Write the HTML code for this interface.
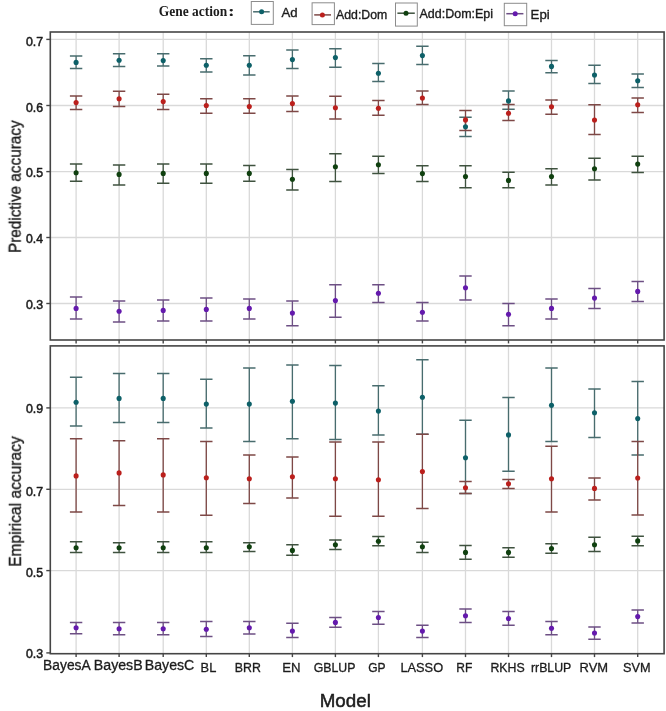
<!DOCTYPE html><html><head><meta charset="utf-8"><style>html,body{margin:0;padding:0;background:#fff}svg{display:block}text{will-change:transform}</style></head><body>
<svg width="666" height="711" viewBox="0 0 666 711">
<rect width="666" height="711" fill="#fff"/>
<line x1="50.3" x2="664.1" y1="39.4" y2="39.4" stroke="#d9d9d9" stroke-width="1.3"/>
<line x1="50.3" x2="664.1" y1="105.5" y2="105.5" stroke="#d9d9d9" stroke-width="1.3"/>
<line x1="50.3" x2="664.1" y1="171.6" y2="171.6" stroke="#d9d9d9" stroke-width="1.3"/>
<line x1="50.3" x2="664.1" y1="237.5" y2="237.5" stroke="#d9d9d9" stroke-width="1.3"/>
<line x1="50.3" x2="664.1" y1="303.5" y2="303.5" stroke="#d9d9d9" stroke-width="1.3"/>
<line x1="76.10" x2="76.10" y1="32.0" y2="340.0" stroke="#d9d9d9" stroke-width="1.3"/>
<line x1="119.10" x2="119.10" y1="32.0" y2="340.0" stroke="#d9d9d9" stroke-width="1.3"/>
<line x1="163.20" x2="163.20" y1="32.0" y2="340.0" stroke="#d9d9d9" stroke-width="1.3"/>
<line x1="206.30" x2="206.30" y1="32.0" y2="340.0" stroke="#d9d9d9" stroke-width="1.3"/>
<line x1="249.30" x2="249.30" y1="32.0" y2="340.0" stroke="#d9d9d9" stroke-width="1.3"/>
<line x1="292.40" x2="292.40" y1="32.0" y2="340.0" stroke="#d9d9d9" stroke-width="1.3"/>
<line x1="335.40" x2="335.40" y1="32.0" y2="340.0" stroke="#d9d9d9" stroke-width="1.3"/>
<line x1="378.40" x2="378.40" y1="32.0" y2="340.0" stroke="#d9d9d9" stroke-width="1.3"/>
<line x1="422.40" x2="422.40" y1="32.0" y2="340.0" stroke="#d9d9d9" stroke-width="1.3"/>
<line x1="465.50" x2="465.50" y1="32.0" y2="340.0" stroke="#d9d9d9" stroke-width="1.3"/>
<line x1="508.50" x2="508.50" y1="32.0" y2="340.0" stroke="#d9d9d9" stroke-width="1.3"/>
<line x1="551.50" x2="551.50" y1="32.0" y2="340.0" stroke="#d9d9d9" stroke-width="1.3"/>
<line x1="594.50" x2="594.50" y1="32.0" y2="340.0" stroke="#d9d9d9" stroke-width="1.3"/>
<line x1="637.70" x2="637.70" y1="32.0" y2="340.0" stroke="#d9d9d9" stroke-width="1.3"/>
<path d="M69.90 55.9H82.30M69.90 68.4H82.30" stroke="#486c6e" stroke-width="1.5" fill="none"/>
<path d="M76.10 55.9V68.4" stroke="#486c6e" stroke-width="1.3" fill="none"/>
<path d="M112.90 53.8H125.30M112.90 66.5H125.30" stroke="#486c6e" stroke-width="1.5" fill="none"/>
<path d="M119.10 53.8V66.5" stroke="#486c6e" stroke-width="1.3" fill="none"/>
<path d="M157.00 53.8H169.40M157.00 66.1H169.40" stroke="#486c6e" stroke-width="1.5" fill="none"/>
<path d="M163.20 53.8V66.1" stroke="#486c6e" stroke-width="1.3" fill="none"/>
<path d="M200.10 58.7H212.50M200.10 71.9H212.50" stroke="#486c6e" stroke-width="1.5" fill="none"/>
<path d="M206.30 58.7V71.9" stroke="#486c6e" stroke-width="1.3" fill="none"/>
<path d="M243.10 55.7H255.50M243.10 74.9H255.50" stroke="#486c6e" stroke-width="1.5" fill="none"/>
<path d="M249.30 55.7V74.9" stroke="#486c6e" stroke-width="1.3" fill="none"/>
<path d="M286.20 49.9H298.60M286.20 68.4H298.60" stroke="#486c6e" stroke-width="1.5" fill="none"/>
<path d="M292.40 49.9V68.4" stroke="#486c6e" stroke-width="1.3" fill="none"/>
<path d="M329.20 48.8H341.60M329.20 67.3H341.60" stroke="#486c6e" stroke-width="1.5" fill="none"/>
<path d="M335.40 48.8V67.3" stroke="#486c6e" stroke-width="1.3" fill="none"/>
<path d="M372.20 63.4H384.60M372.20 81.6H384.60" stroke="#486c6e" stroke-width="1.5" fill="none"/>
<path d="M378.40 63.4V81.6" stroke="#486c6e" stroke-width="1.3" fill="none"/>
<path d="M416.20 46.2H428.60M416.20 64.4H428.60" stroke="#486c6e" stroke-width="1.5" fill="none"/>
<path d="M422.40 46.2V64.4" stroke="#486c6e" stroke-width="1.3" fill="none"/>
<path d="M459.30 117.3H471.70M459.30 136.6H471.70" stroke="#486c6e" stroke-width="1.5" fill="none"/>
<path d="M465.50 117.3V136.6" stroke="#486c6e" stroke-width="1.3" fill="none"/>
<path d="M502.30 91.1H514.70M502.30 109.3H514.70" stroke="#486c6e" stroke-width="1.5" fill="none"/>
<path d="M508.50 91.1V109.3" stroke="#486c6e" stroke-width="1.3" fill="none"/>
<path d="M545.30 60.5H557.70M545.30 72.8H557.70" stroke="#486c6e" stroke-width="1.5" fill="none"/>
<path d="M551.50 60.5V72.8" stroke="#486c6e" stroke-width="1.3" fill="none"/>
<path d="M588.30 65.3H600.70M588.30 83.5H600.70" stroke="#486c6e" stroke-width="1.5" fill="none"/>
<path d="M594.50 65.3V83.5" stroke="#486c6e" stroke-width="1.3" fill="none"/>
<path d="M631.50 74.1H643.90M631.50 87.4H643.90" stroke="#486c6e" stroke-width="1.5" fill="none"/>
<path d="M637.70 74.1V87.4" stroke="#486c6e" stroke-width="1.3" fill="none"/>
<path d="M69.90 96.1H82.30M69.90 109.4H82.30" stroke="#7e4846" stroke-width="1.5" fill="none"/>
<path d="M76.10 96.1V109.4" stroke="#7e4846" stroke-width="1.3" fill="none"/>
<path d="M112.90 91.3H125.30M112.90 106.5H125.30" stroke="#7e4846" stroke-width="1.5" fill="none"/>
<path d="M119.10 91.3V106.5" stroke="#7e4846" stroke-width="1.3" fill="none"/>
<path d="M157.00 94.2H169.40M157.00 109.4H169.40" stroke="#7e4846" stroke-width="1.5" fill="none"/>
<path d="M163.20 94.2V109.4" stroke="#7e4846" stroke-width="1.3" fill="none"/>
<path d="M200.10 98.7H212.50M200.10 113.3H212.50" stroke="#7e4846" stroke-width="1.5" fill="none"/>
<path d="M206.30 98.7V113.3" stroke="#7e4846" stroke-width="1.3" fill="none"/>
<path d="M243.10 98.7H255.50M243.10 113.3H255.50" stroke="#7e4846" stroke-width="1.5" fill="none"/>
<path d="M249.30 98.7V113.3" stroke="#7e4846" stroke-width="1.3" fill="none"/>
<path d="M286.20 96.1H298.60M286.20 111.4H298.60" stroke="#7e4846" stroke-width="1.5" fill="none"/>
<path d="M292.40 96.1V111.4" stroke="#7e4846" stroke-width="1.3" fill="none"/>
<path d="M329.20 96.2H341.60M329.20 119.1H341.60" stroke="#7e4846" stroke-width="1.5" fill="none"/>
<path d="M335.40 96.2V119.1" stroke="#7e4846" stroke-width="1.3" fill="none"/>
<path d="M372.20 100.5H384.60M372.20 115.2H384.60" stroke="#7e4846" stroke-width="1.5" fill="none"/>
<path d="M378.40 100.5V115.2" stroke="#7e4846" stroke-width="1.3" fill="none"/>
<path d="M416.20 91.1H428.60M416.20 104.4H428.60" stroke="#7e4846" stroke-width="1.5" fill="none"/>
<path d="M422.40 91.1V104.4" stroke="#7e4846" stroke-width="1.3" fill="none"/>
<path d="M459.30 110.4H471.70M459.30 130.6H471.70" stroke="#7e4846" stroke-width="1.5" fill="none"/>
<path d="M465.50 110.4V130.6" stroke="#7e4846" stroke-width="1.3" fill="none"/>
<path d="M502.30 104.4H514.70M502.30 120.6H514.70" stroke="#7e4846" stroke-width="1.5" fill="none"/>
<path d="M508.50 104.4V120.6" stroke="#7e4846" stroke-width="1.3" fill="none"/>
<path d="M545.30 99.9H557.70M545.30 114.2H557.70" stroke="#7e4846" stroke-width="1.5" fill="none"/>
<path d="M551.50 99.9V114.2" stroke="#7e4846" stroke-width="1.3" fill="none"/>
<path d="M588.30 104.7H600.70M588.30 134.5H600.70" stroke="#7e4846" stroke-width="1.5" fill="none"/>
<path d="M594.50 104.7V134.5" stroke="#7e4846" stroke-width="1.3" fill="none"/>
<path d="M631.50 98.0H643.90M631.50 112.4H643.90" stroke="#7e4846" stroke-width="1.5" fill="none"/>
<path d="M637.70 98.0V112.4" stroke="#7e4846" stroke-width="1.3" fill="none"/>
<path d="M69.90 164.1H82.30M69.90 181.2H82.30" stroke="#3f523f" stroke-width="1.5" fill="none"/>
<path d="M76.10 164.1V181.2" stroke="#3f523f" stroke-width="1.3" fill="none"/>
<path d="M112.90 165.0H125.30M112.90 185.1H125.30" stroke="#3f523f" stroke-width="1.5" fill="none"/>
<path d="M119.10 165.0V185.1" stroke="#3f523f" stroke-width="1.3" fill="none"/>
<path d="M157.00 164.1H169.40M157.00 183.2H169.40" stroke="#3f523f" stroke-width="1.5" fill="none"/>
<path d="M163.20 164.1V183.2" stroke="#3f523f" stroke-width="1.3" fill="none"/>
<path d="M200.10 164.1H212.50M200.10 183.2H212.50" stroke="#3f523f" stroke-width="1.5" fill="none"/>
<path d="M206.30 164.1V183.2" stroke="#3f523f" stroke-width="1.3" fill="none"/>
<path d="M243.10 165.6H255.50M243.10 181.2H255.50" stroke="#3f523f" stroke-width="1.5" fill="none"/>
<path d="M249.30 165.6V181.2" stroke="#3f523f" stroke-width="1.3" fill="none"/>
<path d="M286.20 169.5H298.60M286.20 190.0H298.60" stroke="#3f523f" stroke-width="1.5" fill="none"/>
<path d="M292.40 169.5V190.0" stroke="#3f523f" stroke-width="1.3" fill="none"/>
<path d="M329.20 153.7H341.60M329.20 181.4H341.60" stroke="#3f523f" stroke-width="1.5" fill="none"/>
<path d="M335.40 153.7V181.4" stroke="#3f523f" stroke-width="1.3" fill="none"/>
<path d="M372.20 156.2H384.60M372.20 173.6H384.60" stroke="#3f523f" stroke-width="1.5" fill="none"/>
<path d="M378.40 156.2V173.6" stroke="#3f523f" stroke-width="1.3" fill="none"/>
<path d="M416.20 165.8H428.60M416.20 181.4H428.60" stroke="#3f523f" stroke-width="1.5" fill="none"/>
<path d="M422.40 165.8V181.4" stroke="#3f523f" stroke-width="1.3" fill="none"/>
<path d="M459.30 165.8H471.70M459.30 187.8H471.70" stroke="#3f523f" stroke-width="1.5" fill="none"/>
<path d="M465.50 165.8V187.8" stroke="#3f523f" stroke-width="1.3" fill="none"/>
<path d="M502.30 172.2H514.70M502.30 187.8H514.70" stroke="#3f523f" stroke-width="1.5" fill="none"/>
<path d="M508.50 172.2V187.8" stroke="#3f523f" stroke-width="1.3" fill="none"/>
<path d="M545.30 168.7H557.70M545.30 184.9H557.70" stroke="#3f523f" stroke-width="1.5" fill="none"/>
<path d="M551.50 168.7V184.9" stroke="#3f523f" stroke-width="1.3" fill="none"/>
<path d="M588.30 158.2H600.70M588.30 180.1H600.70" stroke="#3f523f" stroke-width="1.5" fill="none"/>
<path d="M594.50 158.2V180.1" stroke="#3f523f" stroke-width="1.3" fill="none"/>
<path d="M631.50 156.2H643.90M631.50 172.4H643.90" stroke="#3f523f" stroke-width="1.5" fill="none"/>
<path d="M637.70 156.2V172.4" stroke="#3f523f" stroke-width="1.3" fill="none"/>
<path d="M69.90 297.1H82.30M69.90 319.0H82.30" stroke="#6d4f84" stroke-width="1.5" fill="none"/>
<path d="M76.10 297.1V319.0" stroke="#6d4f84" stroke-width="1.3" fill="none"/>
<path d="M112.90 301.0H125.30M112.90 322.1H125.30" stroke="#6d4f84" stroke-width="1.5" fill="none"/>
<path d="M119.10 301.0V322.1" stroke="#6d4f84" stroke-width="1.3" fill="none"/>
<path d="M157.00 300.0H169.40M157.00 320.9H169.40" stroke="#6d4f84" stroke-width="1.5" fill="none"/>
<path d="M163.20 300.0V320.9" stroke="#6d4f84" stroke-width="1.3" fill="none"/>
<path d="M200.10 298.1H212.50M200.10 320.9H212.50" stroke="#6d4f84" stroke-width="1.5" fill="none"/>
<path d="M206.30 298.1V320.9" stroke="#6d4f84" stroke-width="1.3" fill="none"/>
<path d="M243.10 299.0H255.50M243.10 319.0H255.50" stroke="#6d4f84" stroke-width="1.5" fill="none"/>
<path d="M249.30 299.0V319.0" stroke="#6d4f84" stroke-width="1.3" fill="none"/>
<path d="M286.20 301.0H298.60M286.20 325.8H298.60" stroke="#6d4f84" stroke-width="1.5" fill="none"/>
<path d="M292.40 301.0V325.8" stroke="#6d4f84" stroke-width="1.3" fill="none"/>
<path d="M329.20 284.8H341.60M329.20 317.2H341.60" stroke="#6d4f84" stroke-width="1.5" fill="none"/>
<path d="M335.40 284.8V317.2" stroke="#6d4f84" stroke-width="1.3" fill="none"/>
<path d="M372.20 284.8H384.60M372.20 302.6H384.60" stroke="#6d4f84" stroke-width="1.5" fill="none"/>
<path d="M378.40 284.8V302.6" stroke="#6d4f84" stroke-width="1.3" fill="none"/>
<path d="M416.20 302.6H428.60M416.20 320.9H428.60" stroke="#6d4f84" stroke-width="1.5" fill="none"/>
<path d="M422.40 302.6V320.9" stroke="#6d4f84" stroke-width="1.3" fill="none"/>
<path d="M459.30 276.0H471.70M459.30 300.0H471.70" stroke="#6d4f84" stroke-width="1.5" fill="none"/>
<path d="M465.50 276.0V300.0" stroke="#6d4f84" stroke-width="1.3" fill="none"/>
<path d="M502.30 303.5H514.70M502.30 325.8H514.70" stroke="#6d4f84" stroke-width="1.5" fill="none"/>
<path d="M508.50 303.5V325.8" stroke="#6d4f84" stroke-width="1.3" fill="none"/>
<path d="M545.30 299.0H557.70M545.30 319.0H557.70" stroke="#6d4f84" stroke-width="1.5" fill="none"/>
<path d="M551.50 299.0V319.0" stroke="#6d4f84" stroke-width="1.3" fill="none"/>
<path d="M588.30 288.4H600.70M588.30 308.4H600.70" stroke="#6d4f84" stroke-width="1.5" fill="none"/>
<path d="M594.50 288.4V308.4" stroke="#6d4f84" stroke-width="1.3" fill="none"/>
<path d="M631.50 281.6H643.90M631.50 301.6H643.90" stroke="#6d4f84" stroke-width="1.5" fill="none"/>
<path d="M637.70 281.6V301.6" stroke="#6d4f84" stroke-width="1.3" fill="none"/>
<circle cx="76.10" cy="62.4" r="2.55" fill="#0d6068"/>
<circle cx="119.10" cy="60.2" r="2.55" fill="#0d6068"/>
<circle cx="163.20" cy="60.6" r="2.55" fill="#0d6068"/>
<circle cx="206.30" cy="65.3" r="2.55" fill="#0d6068"/>
<circle cx="249.30" cy="65.3" r="2.55" fill="#0d6068"/>
<circle cx="292.40" cy="59.6" r="2.55" fill="#0d6068"/>
<circle cx="335.40" cy="57.6" r="2.55" fill="#0d6068"/>
<circle cx="378.40" cy="73.2" r="2.55" fill="#0d6068"/>
<circle cx="422.40" cy="55.6" r="2.55" fill="#0d6068"/>
<circle cx="465.50" cy="126.7" r="2.55" fill="#0d6068"/>
<circle cx="508.50" cy="100.9" r="2.55" fill="#0d6068"/>
<circle cx="551.50" cy="66.4" r="2.55" fill="#0d6068"/>
<circle cx="594.50" cy="75.0" r="2.55" fill="#0d6068"/>
<circle cx="637.70" cy="80.8" r="2.55" fill="#0d6068"/>
<circle cx="76.10" cy="102.6" r="2.55" fill="#bb1f1c"/>
<circle cx="119.10" cy="98.7" r="2.55" fill="#bb1f1c"/>
<circle cx="163.20" cy="101.6" r="2.55" fill="#bb1f1c"/>
<circle cx="206.30" cy="105.5" r="2.55" fill="#bb1f1c"/>
<circle cx="249.30" cy="106.5" r="2.55" fill="#bb1f1c"/>
<circle cx="292.40" cy="103.6" r="2.55" fill="#bb1f1c"/>
<circle cx="335.40" cy="107.7" r="2.55" fill="#bb1f1c"/>
<circle cx="378.40" cy="108.3" r="2.55" fill="#bb1f1c"/>
<circle cx="422.40" cy="98.0" r="2.55" fill="#bb1f1c"/>
<circle cx="465.50" cy="119.9" r="2.55" fill="#bb1f1c"/>
<circle cx="508.50" cy="113.2" r="2.55" fill="#bb1f1c"/>
<circle cx="551.50" cy="106.8" r="2.55" fill="#bb1f1c"/>
<circle cx="594.50" cy="120.0" r="2.55" fill="#bb1f1c"/>
<circle cx="637.70" cy="104.7" r="2.55" fill="#bb1f1c"/>
<circle cx="76.10" cy="172.8" r="2.55" fill="#0f400f"/>
<circle cx="119.10" cy="174.4" r="2.55" fill="#0f400f"/>
<circle cx="163.20" cy="173.4" r="2.55" fill="#0f400f"/>
<circle cx="206.30" cy="173.4" r="2.55" fill="#0f400f"/>
<circle cx="249.30" cy="173.4" r="2.55" fill="#0f400f"/>
<circle cx="292.40" cy="179.3" r="2.55" fill="#0f400f"/>
<circle cx="335.40" cy="166.7" r="2.55" fill="#0f400f"/>
<circle cx="378.40" cy="164.8" r="2.55" fill="#0f400f"/>
<circle cx="422.40" cy="173.6" r="2.55" fill="#0f400f"/>
<circle cx="465.50" cy="176.5" r="2.55" fill="#0f400f"/>
<circle cx="508.50" cy="180.4" r="2.55" fill="#0f400f"/>
<circle cx="551.50" cy="176.5" r="2.55" fill="#0f400f"/>
<circle cx="594.50" cy="168.8" r="2.55" fill="#0f400f"/>
<circle cx="637.70" cy="164.1" r="2.55" fill="#0f400f"/>
<circle cx="76.10" cy="308.4" r="2.55" fill="#6419ad"/>
<circle cx="119.10" cy="311.3" r="2.55" fill="#6419ad"/>
<circle cx="163.20" cy="310.4" r="2.55" fill="#6419ad"/>
<circle cx="206.30" cy="309.4" r="2.55" fill="#6419ad"/>
<circle cx="249.30" cy="308.4" r="2.55" fill="#6419ad"/>
<circle cx="292.40" cy="313.1" r="2.55" fill="#6419ad"/>
<circle cx="335.40" cy="300.6" r="2.55" fill="#6419ad"/>
<circle cx="378.40" cy="293.2" r="2.55" fill="#6419ad"/>
<circle cx="422.40" cy="312.3" r="2.55" fill="#6419ad"/>
<circle cx="465.50" cy="287.7" r="2.55" fill="#6419ad"/>
<circle cx="508.50" cy="314.3" r="2.55" fill="#6419ad"/>
<circle cx="551.50" cy="308.4" r="2.55" fill="#6419ad"/>
<circle cx="594.50" cy="298.1" r="2.55" fill="#6419ad"/>
<circle cx="637.70" cy="291.4" r="2.55" fill="#6419ad"/>
<rect x="50.3" y="32.0" width="613.80" height="308.00" fill="none" stroke="#454545" stroke-width="1.6"/>
<line x1="46.3" x2="50.3" y1="39.4" y2="39.4" stroke="#454545" stroke-width="1.4"/>
<text transform="translate(25.97,45.65) scale(0.9448,1)" font-family="Liberation Sans" font-size="13.10" fill="#1c1c1c" stroke="#1c1c1c" stroke-width="0.529" stroke-linejoin="round">0.7</text>
<line x1="46.3" x2="50.3" y1="105.5" y2="105.5" stroke="#454545" stroke-width="1.4"/>
<text transform="translate(25.97,111.65) scale(0.9304,1)" font-family="Liberation Sans" font-size="13.24" fill="#1c1c1c" stroke="#1c1c1c" stroke-width="0.537" stroke-linejoin="round">0.6</text>
<line x1="46.3" x2="50.3" y1="171.6" y2="171.6" stroke="#454545" stroke-width="1.4"/>
<text transform="translate(25.97,176.75) scale(0.9703,1)" font-family="Liberation Sans" font-size="12.68" fill="#1c1c1c" stroke="#1c1c1c" stroke-width="0.515" stroke-linejoin="round">0.5</text>
<line x1="46.3" x2="50.3" y1="237.5" y2="237.5" stroke="#454545" stroke-width="1.4"/>
<text transform="translate(25.98,242.65) scale(0.9502,1)" font-family="Liberation Sans" font-size="12.82" fill="#1c1c1c" stroke="#1c1c1c" stroke-width="0.526" stroke-linejoin="round">0.4</text>
<line x1="46.3" x2="50.3" y1="303.5" y2="303.5" stroke="#454545" stroke-width="1.4"/>
<text transform="translate(25.97,309.15) scale(0.9507,1)" font-family="Liberation Sans" font-size="12.96" fill="#1c1c1c" stroke="#1c1c1c" stroke-width="0.526" stroke-linejoin="round">0.3</text>
<line x1="76.10" x2="76.10" y1="340.0" y2="343.4" stroke="#454545" stroke-width="1.4"/>
<line x1="119.10" x2="119.10" y1="340.0" y2="343.4" stroke="#454545" stroke-width="1.4"/>
<line x1="163.20" x2="163.20" y1="340.0" y2="343.4" stroke="#454545" stroke-width="1.4"/>
<line x1="206.30" x2="206.30" y1="340.0" y2="343.4" stroke="#454545" stroke-width="1.4"/>
<line x1="249.30" x2="249.30" y1="340.0" y2="343.4" stroke="#454545" stroke-width="1.4"/>
<line x1="292.40" x2="292.40" y1="340.0" y2="343.4" stroke="#454545" stroke-width="1.4"/>
<line x1="335.40" x2="335.40" y1="340.0" y2="343.4" stroke="#454545" stroke-width="1.4"/>
<line x1="378.40" x2="378.40" y1="340.0" y2="343.4" stroke="#454545" stroke-width="1.4"/>
<line x1="422.40" x2="422.40" y1="340.0" y2="343.4" stroke="#454545" stroke-width="1.4"/>
<line x1="465.50" x2="465.50" y1="340.0" y2="343.4" stroke="#454545" stroke-width="1.4"/>
<line x1="508.50" x2="508.50" y1="340.0" y2="343.4" stroke="#454545" stroke-width="1.4"/>
<line x1="551.50" x2="551.50" y1="340.0" y2="343.4" stroke="#454545" stroke-width="1.4"/>
<line x1="594.50" x2="594.50" y1="340.0" y2="343.4" stroke="#454545" stroke-width="1.4"/>
<line x1="637.70" x2="637.70" y1="340.0" y2="343.4" stroke="#454545" stroke-width="1.4"/>
<line x1="50.3" x2="664.1" y1="407.9" y2="407.9" stroke="#d9d9d9" stroke-width="1.3"/>
<line x1="50.3" x2="664.1" y1="489.3" y2="489.3" stroke="#d9d9d9" stroke-width="1.3"/>
<line x1="50.3" x2="664.1" y1="570.6" y2="570.6" stroke="#d9d9d9" stroke-width="1.3"/>
<line x1="76.10" x2="76.10" y1="345.9" y2="653.7" stroke="#d9d9d9" stroke-width="1.3"/>
<line x1="119.10" x2="119.10" y1="345.9" y2="653.7" stroke="#d9d9d9" stroke-width="1.3"/>
<line x1="163.20" x2="163.20" y1="345.9" y2="653.7" stroke="#d9d9d9" stroke-width="1.3"/>
<line x1="206.30" x2="206.30" y1="345.9" y2="653.7" stroke="#d9d9d9" stroke-width="1.3"/>
<line x1="249.30" x2="249.30" y1="345.9" y2="653.7" stroke="#d9d9d9" stroke-width="1.3"/>
<line x1="292.40" x2="292.40" y1="345.9" y2="653.7" stroke="#d9d9d9" stroke-width="1.3"/>
<line x1="335.40" x2="335.40" y1="345.9" y2="653.7" stroke="#d9d9d9" stroke-width="1.3"/>
<line x1="378.40" x2="378.40" y1="345.9" y2="653.7" stroke="#d9d9d9" stroke-width="1.3"/>
<line x1="422.40" x2="422.40" y1="345.9" y2="653.7" stroke="#d9d9d9" stroke-width="1.3"/>
<line x1="465.50" x2="465.50" y1="345.9" y2="653.7" stroke="#d9d9d9" stroke-width="1.3"/>
<line x1="508.50" x2="508.50" y1="345.9" y2="653.7" stroke="#d9d9d9" stroke-width="1.3"/>
<line x1="551.50" x2="551.50" y1="345.9" y2="653.7" stroke="#d9d9d9" stroke-width="1.3"/>
<line x1="594.50" x2="594.50" y1="345.9" y2="653.7" stroke="#d9d9d9" stroke-width="1.3"/>
<line x1="637.70" x2="637.70" y1="345.9" y2="653.7" stroke="#d9d9d9" stroke-width="1.3"/>
<path d="M69.90 377.3H82.30M69.90 426.1H82.30" stroke="#486c6e" stroke-width="1.5" fill="none"/>
<path d="M76.10 377.3V426.1" stroke="#486c6e" stroke-width="1.3" fill="none"/>
<path d="M112.90 373.4H125.30M112.90 422.6H125.30" stroke="#486c6e" stroke-width="1.5" fill="none"/>
<path d="M119.10 373.4V422.6" stroke="#486c6e" stroke-width="1.3" fill="none"/>
<path d="M157.00 373.4H169.40M157.00 422.6H169.40" stroke="#486c6e" stroke-width="1.5" fill="none"/>
<path d="M163.20 373.4V422.6" stroke="#486c6e" stroke-width="1.3" fill="none"/>
<path d="M200.10 379.3H212.50M200.10 428.1H212.50" stroke="#486c6e" stroke-width="1.5" fill="none"/>
<path d="M206.30 379.3V428.1" stroke="#486c6e" stroke-width="1.3" fill="none"/>
<path d="M243.10 368.0H255.50M243.10 441.4H255.50" stroke="#486c6e" stroke-width="1.5" fill="none"/>
<path d="M249.30 368.0V441.4" stroke="#486c6e" stroke-width="1.3" fill="none"/>
<path d="M286.20 365.0H298.60M286.20 438.8H298.60" stroke="#486c6e" stroke-width="1.5" fill="none"/>
<path d="M292.40 365.0V438.8" stroke="#486c6e" stroke-width="1.3" fill="none"/>
<path d="M329.20 365.6H341.60M329.20 439.4H341.60" stroke="#486c6e" stroke-width="1.5" fill="none"/>
<path d="M335.40 365.6V439.4" stroke="#486c6e" stroke-width="1.3" fill="none"/>
<path d="M372.20 385.7H384.60M372.20 434.9H384.60" stroke="#486c6e" stroke-width="1.5" fill="none"/>
<path d="M378.40 385.7V434.9" stroke="#486c6e" stroke-width="1.3" fill="none"/>
<path d="M416.20 359.8H428.60M416.20 434.3H428.60" stroke="#486c6e" stroke-width="1.5" fill="none"/>
<path d="M422.40 359.8V434.3" stroke="#486c6e" stroke-width="1.3" fill="none"/>
<path d="M459.30 420.3H471.70M459.30 493.6H471.70" stroke="#486c6e" stroke-width="1.5" fill="none"/>
<path d="M465.50 420.3V493.6" stroke="#486c6e" stroke-width="1.3" fill="none"/>
<path d="M502.30 397.4H514.70M502.30 471.2H514.70" stroke="#486c6e" stroke-width="1.5" fill="none"/>
<path d="M508.50 397.4V471.2" stroke="#486c6e" stroke-width="1.3" fill="none"/>
<path d="M545.30 368.0H557.70M545.30 441.4H557.70" stroke="#486c6e" stroke-width="1.5" fill="none"/>
<path d="M551.50 368.0V441.4" stroke="#486c6e" stroke-width="1.3" fill="none"/>
<path d="M588.30 388.9H600.70M588.30 437.5H600.70" stroke="#486c6e" stroke-width="1.5" fill="none"/>
<path d="M594.50 388.9V437.5" stroke="#486c6e" stroke-width="1.3" fill="none"/>
<path d="M631.50 381.4H643.90M631.50 455.0H643.90" stroke="#486c6e" stroke-width="1.5" fill="none"/>
<path d="M637.70 381.4V455.0" stroke="#486c6e" stroke-width="1.3" fill="none"/>
<path d="M69.90 438.8H82.30M69.90 512.0H82.30" stroke="#7e4846" stroke-width="1.5" fill="none"/>
<path d="M76.10 438.8V512.0" stroke="#7e4846" stroke-width="1.3" fill="none"/>
<path d="M112.90 440.8H125.30M112.90 505.5H125.30" stroke="#7e4846" stroke-width="1.5" fill="none"/>
<path d="M119.10 440.8V505.5" stroke="#7e4846" stroke-width="1.3" fill="none"/>
<path d="M157.00 438.8H169.40M157.00 512.0H169.40" stroke="#7e4846" stroke-width="1.5" fill="none"/>
<path d="M163.20 438.8V512.0" stroke="#7e4846" stroke-width="1.3" fill="none"/>
<path d="M200.10 441.4H212.50M200.10 515.3H212.50" stroke="#7e4846" stroke-width="1.5" fill="none"/>
<path d="M206.30 441.4V515.3" stroke="#7e4846" stroke-width="1.3" fill="none"/>
<path d="M243.10 455.0H255.50M243.10 503.6H255.50" stroke="#7e4846" stroke-width="1.5" fill="none"/>
<path d="M249.30 455.0V503.6" stroke="#7e4846" stroke-width="1.3" fill="none"/>
<path d="M286.20 457.0H298.60M286.20 497.9H298.60" stroke="#7e4846" stroke-width="1.5" fill="none"/>
<path d="M292.40 457.0V497.9" stroke="#7e4846" stroke-width="1.3" fill="none"/>
<path d="M329.20 442.1H341.60M329.20 516.3H341.60" stroke="#7e4846" stroke-width="1.5" fill="none"/>
<path d="M335.40 442.1V516.3" stroke="#7e4846" stroke-width="1.3" fill="none"/>
<path d="M372.20 442.1H384.60M372.20 516.3H384.60" stroke="#7e4846" stroke-width="1.5" fill="none"/>
<path d="M378.40 442.1V516.3" stroke="#7e4846" stroke-width="1.3" fill="none"/>
<path d="M416.20 434.3H428.60M416.20 508.5H428.60" stroke="#7e4846" stroke-width="1.5" fill="none"/>
<path d="M422.40 434.3V508.5" stroke="#7e4846" stroke-width="1.3" fill="none"/>
<path d="M459.30 481.6H471.70M459.30 493.6H471.70" stroke="#7e4846" stroke-width="1.5" fill="none"/>
<path d="M465.50 481.6V493.6" stroke="#7e4846" stroke-width="1.3" fill="none"/>
<path d="M502.30 479.4H514.70M502.30 488.5H514.70" stroke="#7e4846" stroke-width="1.5" fill="none"/>
<path d="M508.50 479.4V488.5" stroke="#7e4846" stroke-width="1.3" fill="none"/>
<path d="M545.30 446.2H557.70M545.30 512.0H557.70" stroke="#7e4846" stroke-width="1.5" fill="none"/>
<path d="M551.50 446.2V512.0" stroke="#7e4846" stroke-width="1.3" fill="none"/>
<path d="M588.30 478.0H600.70M588.30 500.0H600.70" stroke="#7e4846" stroke-width="1.5" fill="none"/>
<path d="M594.50 478.0V500.0" stroke="#7e4846" stroke-width="1.3" fill="none"/>
<path d="M631.50 441.5H643.90M631.50 515.1H643.90" stroke="#7e4846" stroke-width="1.5" fill="none"/>
<path d="M637.70 441.5V515.1" stroke="#7e4846" stroke-width="1.3" fill="none"/>
<path d="M69.90 541.8H82.30M69.90 552.4H82.30" stroke="#3f523f" stroke-width="1.5" fill="none"/>
<path d="M76.10 541.8V552.4" stroke="#3f523f" stroke-width="1.3" fill="none"/>
<path d="M112.90 542.8H125.30M112.90 552.4H125.30" stroke="#3f523f" stroke-width="1.5" fill="none"/>
<path d="M119.10 542.8V552.4" stroke="#3f523f" stroke-width="1.3" fill="none"/>
<path d="M157.00 541.8H169.40M157.00 552.4H169.40" stroke="#3f523f" stroke-width="1.5" fill="none"/>
<path d="M163.20 541.8V552.4" stroke="#3f523f" stroke-width="1.3" fill="none"/>
<path d="M200.10 541.8H212.50M200.10 552.4H212.50" stroke="#3f523f" stroke-width="1.5" fill="none"/>
<path d="M206.30 541.8V552.4" stroke="#3f523f" stroke-width="1.3" fill="none"/>
<path d="M243.10 542.8H255.50M243.10 551.4H255.50" stroke="#3f523f" stroke-width="1.5" fill="none"/>
<path d="M249.30 542.8V551.4" stroke="#3f523f" stroke-width="1.3" fill="none"/>
<path d="M286.20 544.8H298.60M286.20 555.3H298.60" stroke="#3f523f" stroke-width="1.5" fill="none"/>
<path d="M292.40 544.8V555.3" stroke="#3f523f" stroke-width="1.3" fill="none"/>
<path d="M329.20 539.9H341.60M329.20 549.6H341.60" stroke="#3f523f" stroke-width="1.5" fill="none"/>
<path d="M335.40 539.9V549.6" stroke="#3f523f" stroke-width="1.3" fill="none"/>
<path d="M372.20 536.4H384.60M372.20 545.7H384.60" stroke="#3f523f" stroke-width="1.5" fill="none"/>
<path d="M378.40 536.4V545.7" stroke="#3f523f" stroke-width="1.3" fill="none"/>
<path d="M416.20 542.2H428.60M416.20 552.4H428.60" stroke="#3f523f" stroke-width="1.5" fill="none"/>
<path d="M422.40 542.2V552.4" stroke="#3f523f" stroke-width="1.3" fill="none"/>
<path d="M459.30 545.5H471.70M459.30 559.2H471.70" stroke="#3f523f" stroke-width="1.5" fill="none"/>
<path d="M465.50 545.5V559.2" stroke="#3f523f" stroke-width="1.3" fill="none"/>
<path d="M502.30 547.7H514.70M502.30 557.3H514.70" stroke="#3f523f" stroke-width="1.5" fill="none"/>
<path d="M508.50 547.7V557.3" stroke="#3f523f" stroke-width="1.3" fill="none"/>
<path d="M545.30 543.8H557.70M545.30 553.3H557.70" stroke="#3f523f" stroke-width="1.5" fill="none"/>
<path d="M551.50 543.8V553.3" stroke="#3f523f" stroke-width="1.3" fill="none"/>
<path d="M588.30 537.3H600.70M588.30 551.5H600.70" stroke="#3f523f" stroke-width="1.5" fill="none"/>
<path d="M594.50 537.3V551.5" stroke="#3f523f" stroke-width="1.3" fill="none"/>
<path d="M631.50 536.2H643.90M631.50 545.7H643.90" stroke="#3f523f" stroke-width="1.5" fill="none"/>
<path d="M637.70 536.2V545.7" stroke="#3f523f" stroke-width="1.3" fill="none"/>
<path d="M69.90 622.4H82.30M69.90 633.7H82.30" stroke="#6d4f84" stroke-width="1.5" fill="none"/>
<path d="M76.10 622.4V633.7" stroke="#6d4f84" stroke-width="1.3" fill="none"/>
<path d="M112.90 622.4H125.30M112.90 634.7H125.30" stroke="#6d4f84" stroke-width="1.5" fill="none"/>
<path d="M119.10 622.4V634.7" stroke="#6d4f84" stroke-width="1.3" fill="none"/>
<path d="M157.00 622.4H169.40M157.00 634.7H169.40" stroke="#6d4f84" stroke-width="1.5" fill="none"/>
<path d="M163.20 622.4V634.7" stroke="#6d4f84" stroke-width="1.3" fill="none"/>
<path d="M200.10 621.4H212.50M200.10 636.6H212.50" stroke="#6d4f84" stroke-width="1.5" fill="none"/>
<path d="M206.30 621.4V636.6" stroke="#6d4f84" stroke-width="1.3" fill="none"/>
<path d="M243.10 621.4H255.50M243.10 634.1H255.50" stroke="#6d4f84" stroke-width="1.5" fill="none"/>
<path d="M249.30 621.4V634.1" stroke="#6d4f84" stroke-width="1.3" fill="none"/>
<path d="M286.20 623.3H298.60M286.20 637.6H298.60" stroke="#6d4f84" stroke-width="1.5" fill="none"/>
<path d="M292.40 623.3V637.6" stroke="#6d4f84" stroke-width="1.3" fill="none"/>
<path d="M329.20 617.5H341.60M329.20 627.2H341.60" stroke="#6d4f84" stroke-width="1.5" fill="none"/>
<path d="M335.40 617.5V627.2" stroke="#6d4f84" stroke-width="1.3" fill="none"/>
<path d="M372.20 611.6H384.60M372.20 624.3H384.60" stroke="#6d4f84" stroke-width="1.5" fill="none"/>
<path d="M378.40 611.6V624.3" stroke="#6d4f84" stroke-width="1.3" fill="none"/>
<path d="M416.20 625.3H428.60M416.20 637.6H428.60" stroke="#6d4f84" stroke-width="1.5" fill="none"/>
<path d="M422.40 625.3V637.6" stroke="#6d4f84" stroke-width="1.3" fill="none"/>
<path d="M459.30 608.9H471.70M459.30 622.4H471.70" stroke="#6d4f84" stroke-width="1.5" fill="none"/>
<path d="M465.50 608.9V622.4" stroke="#6d4f84" stroke-width="1.3" fill="none"/>
<path d="M502.30 611.6H514.70M502.30 625.3H514.70" stroke="#6d4f84" stroke-width="1.5" fill="none"/>
<path d="M508.50 611.6V625.3" stroke="#6d4f84" stroke-width="1.3" fill="none"/>
<path d="M545.30 621.4H557.70M545.30 634.7H557.70" stroke="#6d4f84" stroke-width="1.5" fill="none"/>
<path d="M551.50 621.4V634.7" stroke="#6d4f84" stroke-width="1.3" fill="none"/>
<path d="M588.30 626.9H600.70M588.30 639.3H600.70" stroke="#6d4f84" stroke-width="1.5" fill="none"/>
<path d="M594.50 626.9V639.3" stroke="#6d4f84" stroke-width="1.3" fill="none"/>
<path d="M631.50 610.0H643.90M631.50 623.1H643.90" stroke="#6d4f84" stroke-width="1.5" fill="none"/>
<path d="M637.70 610.0V623.1" stroke="#6d4f84" stroke-width="1.3" fill="none"/>
<circle cx="76.10" cy="402.3" r="2.55" fill="#0d6068"/>
<circle cx="119.10" cy="398.4" r="2.55" fill="#0d6068"/>
<circle cx="163.20" cy="398.4" r="2.55" fill="#0d6068"/>
<circle cx="206.30" cy="404.1" r="2.55" fill="#0d6068"/>
<circle cx="249.30" cy="404.1" r="2.55" fill="#0d6068"/>
<circle cx="292.40" cy="401.3" r="2.55" fill="#0d6068"/>
<circle cx="335.40" cy="403.1" r="2.55" fill="#0d6068"/>
<circle cx="378.40" cy="411.1" r="2.55" fill="#0d6068"/>
<circle cx="422.40" cy="397.2" r="2.55" fill="#0d6068"/>
<circle cx="465.50" cy="457.7" r="2.55" fill="#0d6068"/>
<circle cx="508.50" cy="434.9" r="2.55" fill="#0d6068"/>
<circle cx="551.50" cy="405.2" r="2.55" fill="#0d6068"/>
<circle cx="594.50" cy="412.8" r="2.55" fill="#0d6068"/>
<circle cx="637.70" cy="418.6" r="2.55" fill="#0d6068"/>
<circle cx="76.10" cy="475.9" r="2.55" fill="#bb1f1c"/>
<circle cx="119.10" cy="472.9" r="2.55" fill="#bb1f1c"/>
<circle cx="163.20" cy="474.9" r="2.55" fill="#bb1f1c"/>
<circle cx="206.30" cy="477.8" r="2.55" fill="#bb1f1c"/>
<circle cx="249.30" cy="478.8" r="2.55" fill="#bb1f1c"/>
<circle cx="292.40" cy="476.8" r="2.55" fill="#bb1f1c"/>
<circle cx="335.40" cy="478.8" r="2.55" fill="#bb1f1c"/>
<circle cx="378.40" cy="479.8" r="2.55" fill="#bb1f1c"/>
<circle cx="422.40" cy="471.6" r="2.55" fill="#bb1f1c"/>
<circle cx="465.50" cy="487.7" r="2.55" fill="#bb1f1c"/>
<circle cx="508.50" cy="483.7" r="2.55" fill="#bb1f1c"/>
<circle cx="551.50" cy="478.8" r="2.55" fill="#bb1f1c"/>
<circle cx="594.50" cy="488.4" r="2.55" fill="#bb1f1c"/>
<circle cx="637.70" cy="478.0" r="2.55" fill="#bb1f1c"/>
<circle cx="76.10" cy="547.7" r="2.55" fill="#0f400f"/>
<circle cx="119.10" cy="547.7" r="2.55" fill="#0f400f"/>
<circle cx="163.20" cy="547.7" r="2.55" fill="#0f400f"/>
<circle cx="206.30" cy="547.7" r="2.55" fill="#0f400f"/>
<circle cx="249.30" cy="546.7" r="2.55" fill="#0f400f"/>
<circle cx="292.40" cy="550.4" r="2.55" fill="#0f400f"/>
<circle cx="335.40" cy="544.8" r="2.55" fill="#0f400f"/>
<circle cx="378.40" cy="541.2" r="2.55" fill="#0f400f"/>
<circle cx="422.40" cy="546.7" r="2.55" fill="#0f400f"/>
<circle cx="465.50" cy="552.4" r="2.55" fill="#0f400f"/>
<circle cx="508.50" cy="552.4" r="2.55" fill="#0f400f"/>
<circle cx="551.50" cy="548.5" r="2.55" fill="#0f400f"/>
<circle cx="594.50" cy="544.7" r="2.55" fill="#0f400f"/>
<circle cx="637.70" cy="540.9" r="2.55" fill="#0f400f"/>
<circle cx="76.10" cy="627.8" r="2.55" fill="#6419ad"/>
<circle cx="119.10" cy="628.8" r="2.55" fill="#6419ad"/>
<circle cx="163.20" cy="628.8" r="2.55" fill="#6419ad"/>
<circle cx="206.30" cy="629.2" r="2.55" fill="#6419ad"/>
<circle cx="249.30" cy="627.8" r="2.55" fill="#6419ad"/>
<circle cx="292.40" cy="631.1" r="2.55" fill="#6419ad"/>
<circle cx="335.40" cy="622.4" r="2.55" fill="#6419ad"/>
<circle cx="378.40" cy="617.5" r="2.55" fill="#6419ad"/>
<circle cx="422.40" cy="631.1" r="2.55" fill="#6419ad"/>
<circle cx="465.50" cy="615.7" r="2.55" fill="#6419ad"/>
<circle cx="508.50" cy="618.5" r="2.55" fill="#6419ad"/>
<circle cx="551.50" cy="628.2" r="2.55" fill="#6419ad"/>
<circle cx="594.50" cy="633.0" r="2.55" fill="#6419ad"/>
<circle cx="637.70" cy="616.6" r="2.55" fill="#6419ad"/>
<rect x="50.3" y="345.9" width="613.80" height="307.80" fill="none" stroke="#454545" stroke-width="1.6"/>
<line x1="46.3" x2="50.3" y1="407.9" y2="407.9" stroke="#454545" stroke-width="1.4"/>
<text transform="translate(25.97,413.25) scale(0.9326,1)" font-family="Liberation Sans" font-size="13.24" fill="#1c1c1c" stroke="#1c1c1c" stroke-width="0.536" stroke-linejoin="round">0.9</text>
<line x1="46.3" x2="50.3" y1="489.3" y2="489.3" stroke="#454545" stroke-width="1.4"/>
<text transform="translate(25.97,495.55) scale(0.9347,1)" font-family="Liberation Sans" font-size="13.24" fill="#1c1c1c" stroke="#1c1c1c" stroke-width="0.535" stroke-linejoin="round">0.7</text>
<line x1="46.3" x2="50.3" y1="570.6" y2="570.6" stroke="#454545" stroke-width="1.4"/>
<text transform="translate(25.97,576.75) scale(0.9596,1)" font-family="Liberation Sans" font-size="12.82" fill="#1c1c1c" stroke="#1c1c1c" stroke-width="0.521" stroke-linejoin="round">0.5</text>
<line x1="46.3" x2="50.3" y1="652.9" y2="652.9" stroke="#454545" stroke-width="1.4"/>
<text transform="translate(25.97,658.15) scale(0.9718,1)" font-family="Liberation Sans" font-size="12.68" fill="#1c1c1c" stroke="#1c1c1c" stroke-width="0.515" stroke-linejoin="round">0.3</text>
<line x1="76.10" x2="76.10" y1="653.7" y2="657.1" stroke="#454545" stroke-width="1.4"/>
<line x1="119.10" x2="119.10" y1="653.7" y2="657.1" stroke="#454545" stroke-width="1.4"/>
<line x1="163.20" x2="163.20" y1="653.7" y2="657.1" stroke="#454545" stroke-width="1.4"/>
<line x1="206.30" x2="206.30" y1="653.7" y2="657.1" stroke="#454545" stroke-width="1.4"/>
<line x1="249.30" x2="249.30" y1="653.7" y2="657.1" stroke="#454545" stroke-width="1.4"/>
<line x1="292.40" x2="292.40" y1="653.7" y2="657.1" stroke="#454545" stroke-width="1.4"/>
<line x1="335.40" x2="335.40" y1="653.7" y2="657.1" stroke="#454545" stroke-width="1.4"/>
<line x1="378.40" x2="378.40" y1="653.7" y2="657.1" stroke="#454545" stroke-width="1.4"/>
<line x1="422.40" x2="422.40" y1="653.7" y2="657.1" stroke="#454545" stroke-width="1.4"/>
<line x1="465.50" x2="465.50" y1="653.7" y2="657.1" stroke="#454545" stroke-width="1.4"/>
<line x1="508.50" x2="508.50" y1="653.7" y2="657.1" stroke="#454545" stroke-width="1.4"/>
<line x1="551.50" x2="551.50" y1="653.7" y2="657.1" stroke="#454545" stroke-width="1.4"/>
<line x1="594.50" x2="594.50" y1="653.7" y2="657.1" stroke="#454545" stroke-width="1.4"/>
<line x1="637.70" x2="637.70" y1="653.7" y2="657.1" stroke="#454545" stroke-width="1.4"/>
<text transform="translate(43.12,670.35) scale(0.9912,1)" font-family="Liberation Sans" font-size="13.95" fill="#1c1c1c" stroke="#1c1c1c" stroke-width="0.303" stroke-linejoin="round">BayesA</text>
<text transform="translate(93.79,670.35) scale(1.0173,1)" font-family="Liberation Sans" font-size="13.95" fill="#1c1c1c" stroke="#1c1c1c" stroke-width="0.295" stroke-linejoin="round">BayesB</text>
<text transform="translate(144.79,670.45) scale(1.0028,1)" font-family="Liberation Sans" font-size="14.10" fill="#1c1c1c" stroke="#1c1c1c" stroke-width="0.299" stroke-linejoin="round">BayesC</text>
<text transform="translate(200.60,671.65) scale(0.9689,1)" font-family="Liberation Sans" font-size="13.23" fill="#1c1c1c" stroke="#1c1c1c" stroke-width="0.310" stroke-linejoin="round">BL</text>
<text transform="translate(234.84,671.65) scale(0.9346,1)" font-family="Liberation Sans" font-size="13.23" fill="#1c1c1c" stroke="#1c1c1c" stroke-width="0.321" stroke-linejoin="round">BRR</text>
<text transform="translate(282.27,671.55) scale(0.9990,1)" font-family="Liberation Sans" font-size="13.23" fill="#1c1c1c" stroke="#1c1c1c" stroke-width="0.300" stroke-linejoin="round">EN</text>
<text transform="translate(313.73,671.55) scale(0.9315,1)" font-family="Liberation Sans" font-size="13.23" fill="#1c1c1c" stroke="#1c1c1c" stroke-width="0.322" stroke-linejoin="round">GBLUP</text>
<text transform="translate(368.15,671.55) scale(0.9070,1)" font-family="Liberation Sans" font-size="13.23" fill="#1c1c1c" stroke="#1c1c1c" stroke-width="0.331" stroke-linejoin="round">GP</text>
<text transform="translate(400.40,671.55) scale(0.9803,1)" font-family="Liberation Sans" font-size="13.08" fill="#1c1c1c" stroke="#1c1c1c" stroke-width="0.306" stroke-linejoin="round">LASSO</text>
<text transform="translate(456.36,671.55) scale(0.9320,1)" font-family="Liberation Sans" font-size="12.94" fill="#1c1c1c" stroke="#1c1c1c" stroke-width="0.322" stroke-linejoin="round">RF</text>
<text transform="translate(490.44,671.55) scale(0.9539,1)" font-family="Liberation Sans" font-size="12.94" fill="#1c1c1c" stroke="#1c1c1c" stroke-width="0.315" stroke-linejoin="round">RKHS</text>
<text transform="translate(530.94,671.65) scale(0.9652,1)" font-family="Liberation Sans" font-size="12.79" fill="#1c1c1c" stroke="#1c1c1c" stroke-width="0.311" stroke-linejoin="round">rrBLUP</text>
<text transform="translate(579.59,671.65) scale(1.0118,1)" font-family="Liberation Sans" font-size="12.79" fill="#1c1c1c" stroke="#1c1c1c" stroke-width="0.297" stroke-linejoin="round">RVM</text>
<text transform="translate(622.96,671.65) scale(0.9641,1)" font-family="Liberation Sans" font-size="13.23" fill="#1c1c1c" stroke="#1c1c1c" stroke-width="0.311" stroke-linejoin="round">SVM</text>
<text transform="translate(319.71,706.75) scale(1.0165,1)" font-family="Liberation Sans" font-size="18.46" fill="#1c1c1c" stroke="#1c1c1c" stroke-width="0.492" stroke-linejoin="round">Model</text>
<text transform="translate(20.72,252.98) rotate(-90) scale(0.9532,1)" font-family="Liberation Sans" font-size="16.06" fill="#1c1c1c" stroke="#1c1c1c" stroke-width="0.367" stroke-linejoin="round">Predictive accuracy</text>
<text transform="translate(20.93,566.80) rotate(-90) scale(0.9608,1)" font-family="Liberation Sans" font-size="16.21" fill="#1c1c1c" stroke="#1c1c1c" stroke-width="0.364" stroke-linejoin="round">Empirical accuracy</text>
<text transform="translate(158.84,16.00) scale(0.9212,1)" font-family="Liberation Serif" font-size="14.62" font-weight="bold" fill="#1c1c1c">Gene action</text>
<text transform="translate(228.28,15.90) scale(1.2527,1)" font-family="Liberation Serif" font-size="14.78" font-weight="bold" fill="#1c1c1c" stroke="#1c1c1c" stroke-width="0.160" stroke-linejoin="round">:</text>
<rect x="251.3" y="1.5" width="22.00" height="22.90" fill="#fff" stroke="#8c8c8c" stroke-width="1.0"/>
<line x1="253.1" x2="269.7" y1="11.8" y2="11.8" stroke="#486c6e" stroke-width="1.5"/>
<circle cx="261.6" cy="11.8" r="2.5" fill="#0d6068"/>
<text transform="translate(281.45,16.62) scale(0.9699,1)" font-family="Liberation Sans" font-size="13.59" fill="#1c1c1c" stroke="#1c1c1c" stroke-width="0.361" stroke-linejoin="round">Ad</text>
<rect x="312.1" y="2.8" width="22.30" height="21.80" fill="#fff" stroke="#8c8c8c" stroke-width="1.0"/>
<line x1="314.2" x2="331.0" y1="14.9" y2="14.9" stroke="#7e4846" stroke-width="1.5"/>
<circle cx="322.4" cy="14.9" r="2.5" fill="#bb1f1c"/>
<text transform="translate(336.05,19.32) scale(1.0019,1)" font-family="Liberation Sans" font-size="12.28" fill="#1c1c1c" stroke="#1c1c1c" stroke-width="0.349" stroke-linejoin="round">Add:Dom</text>
<rect x="395.5" y="3.0" width="21.80" height="23.10" fill="#fff" stroke="#8c8c8c" stroke-width="1.0"/>
<line x1="397.4" x2="414.8" y1="13.2" y2="13.2" stroke="#3f523f" stroke-width="1.5"/>
<circle cx="406.0" cy="13.2" r="2.5" fill="#0f400f"/>
<text transform="translate(419.55,18.43) scale(1.0282,1)" font-family="Liberation Sans" font-size="12.14" fill="#1c1c1c" stroke="#1c1c1c" stroke-width="0.340" stroke-linejoin="round">Add:Dom:Epi</text>
<rect x="504.3" y="3.3" width="22.40" height="22.40" fill="#fff" stroke="#8c8c8c" stroke-width="1.0"/>
<line x1="506.3" x2="523.4" y1="13.7" y2="13.7" stroke="#6d4f84" stroke-width="1.5"/>
<circle cx="515.2" cy="13.7" r="2.5" fill="#6419ad"/>
<text transform="translate(530.59,18.52) scale(1.0405,1)" font-family="Liberation Sans" font-size="12.72" fill="#1c1c1c" stroke="#1c1c1c" stroke-width="0.336" stroke-linejoin="round">Epi</text>
</svg></body></html>
